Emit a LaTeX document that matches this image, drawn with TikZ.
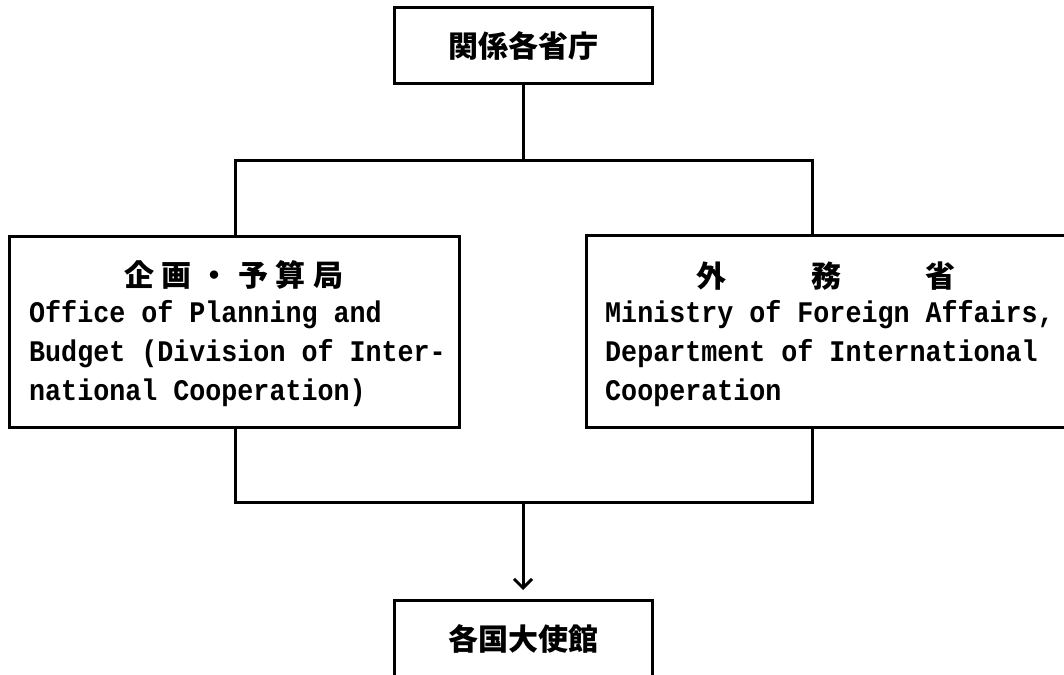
\documentclass[tikz,border=0pt]{standalone}
\usepackage{fontspec}
\setmonofont{Liberation Mono}
\newfontfamily\cjk{Noto Sans CJK JP}
\usetikzlibrary{arrows.meta}
\newcommand{\tallen}[1]{\scalebox{1}[1.12]{#1}}
\tikzset{
  box/.style={draw, line width=3pt, inner sep=0pt, outer sep=0pt, anchor=north west},
  jp/.style={font=\cjk\bfseries\fontsize{30}{30}\selectfont, inner sep=0pt},
  en/.style={font=\ttfamily\bfseries\fontsize{26.7}{30}\selectfont, inner sep=0pt, anchor=base west},
  link/.style={line width=3pt},
}
\begin{document}
\begin{tikzpicture}[x=1pt,y=-1pt]
\useasboundingbox (0,0) rectangle (1064,674);
\clip (0,0) rectangle (1064,674);
% boxes
\node[box, minimum width=258pt, minimum height=76pt] (T) at (394,8) {};
\node[box, minimum width=450pt, minimum height=191pt] (L) at (9,236) {};
\node[box, minimum width=500pt, minimum height=192pt] (R) at (586,235) {};
\node[box, minimum width=258pt, minimum height=100pt] (B) at (394,600) {};
% texts
\node[jp] (tT) at (523,46) {関係各省庁};
\node[jp] (tB) at (523,639) {各国大使館};
\node[jp] (tL) at (234,275) {企\hspace{8pt}画\hspace{8pt}・\hspace{8pt}予\hspace{8pt}算\hspace{8pt}局};
\node[jp] (tR) at (826,276) {外\hspace{85pt}務\hspace{85pt}省};
\node[en] (l1) at (29,322) {\tallen{Office of Planning and}};
\node[en] (l2) at (29,361) {\tallen{Budget (Division of Inter-}};
\node[en] (l3) at (29,400) {\tallen{national Cooperation)}};
\node[en] (r1) at (605,322) {\tallen{Ministry of Foreign Affairs,}};
\node[en] (r2) at (605,361) {\tallen{Department of International}};
\node[en] (r3) at (605,400) {\tallen{Cooperation}};
% connectors
\coordinate (jt) at (523,160);
\coordinate (jl) at (235,160);
\coordinate (jr) at (812,160);
\coordinate (bl) at (235,502);
\coordinate (br) at (812,502);
\coordinate (jb) at (523,502);
\draw[link] (T.south) -- (T.south |- jt);
\draw[link] (jl |- L.north) -- (jl) -- (jr) -- (jr |- R.north);
\draw[link] (bl |- L.south) -- (bl) -- (br) -- (br |- R.south);
\draw[link, -{Straight Barb[length=9pt,width=18pt,line width=3pt]}, shorten >=10pt] (B.north |- jb) -- (B.north);
\end{tikzpicture}
\end{document}
